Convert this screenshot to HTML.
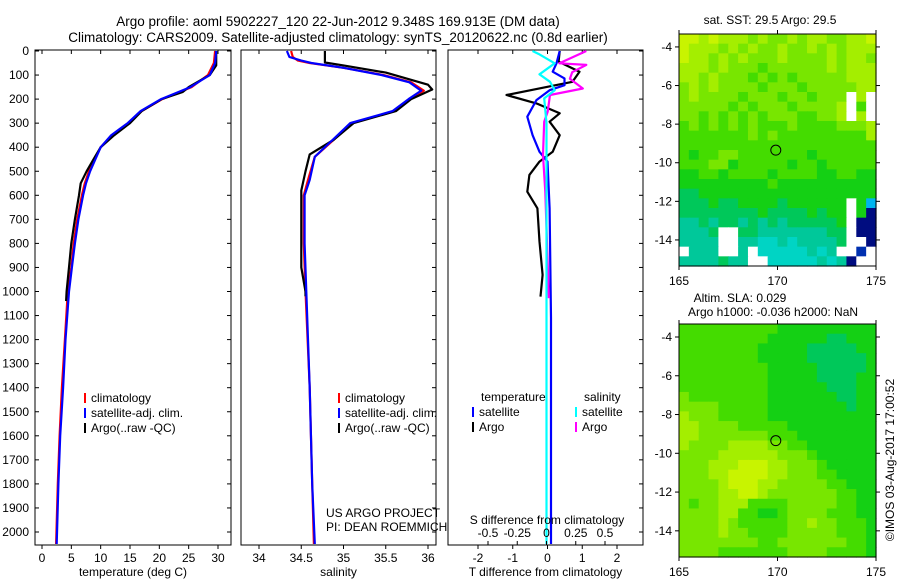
<!DOCTYPE html>
<html><head><meta charset="utf-8"><style>
body{margin:0;background:#fff;}
svg{display:block;font-family:"Liberation Sans",sans-serif;}
text{fill:#000;}
</style></head><body>
<svg id="fig" width="900" height="580" viewBox="0 0 900 580" xmlns="http://www.w3.org/2000/svg">
<rect width="900" height="580" fill="#fff"/>
<text x="338" y="26" font-size="13.5" text-anchor="middle">Argo profile: aoml 5902227_120 22-Jun-2012 9.348S 169.913E (DM data)</text>
<text x="338" y="42" font-size="13.5" text-anchor="middle">Climatology: CARS2009. Satellite-adjusted climatology: synTS_20120622.nc (0.8d earlier)</text>
<g id="plots"></g>
<g id="maps"></g>
<text x="770" y="24" font-size="12" text-anchor="middle">sat. SST: 29.5 Argo: 29.5</text>
<text x="740" y="302" font-size="12" text-anchor="middle">Altim. SLA: 0.029</text>
<text x="773" y="316" font-size="12" text-anchor="middle">Argo h1000: -0.036 h2000: NaN</text>
<text x="0" y="0" font-size="12" text-anchor="middle" transform="translate(894,460) rotate(-90)">©IMOS 03-Aug-2017 17:00:52</text>
<text x="326" y="517" font-size="12">US ARGO PROJECT</text>
<text x="326" y="531" font-size="12">PI: DEAN ROEMMICH</text>
</svg>
<script>
// ---- data ----
const tempDepth=[0,50,100,150,200,250,300,350,400,450,500,550,600,700,800,900,1000,1200,1400,1600,1800,2050];
const tempClim=[29.5,29.3,28.3,25.5,20.5,17,14.8,12,10,9,8,7.3,6.8,6,5.4,5,4.4,3.9,3.4,3,2.7,2.4];
const tempSat=[29.7,29.5,28.6,25.3,20.3,16.8,14.6,11.8,10,9.1,8.2,7.5,7,6.2,5.6,5.1,4.6,4,3.6,3.1,2.8,2.5];
const argoDepth=[0,60,100,150,170,200,250,300,350,400,450,500,550,600,700,800,900,1000,1040];
const tempArgo=[29.7,29.7,28.6,25,24,20.4,17,15,12.3,10,8.8,7.6,6.6,6.3,5.6,5,4.6,4.2,4.1];
const salDepth=[0,25,40,50,70,100,130,165,200,250,300,370,440,536,600,800,1000,1400,1800,2050];
const salClim=[34.38,34.4,34.46,34.6,35.0,35.47,35.8,35.95,35.79,35.6,35.1,34.88,34.66,34.58,34.53,34.53,34.55,34.6,34.63,34.65];
const salSat=[34.33,34.36,34.5,34.62,35.0,35.45,35.78,35.92,35.77,35.58,35.08,34.87,34.66,34.6,34.54,34.54,34.56,34.6,34.63,34.66];
const salArgoDepth=[0,48,60,90,140,160,200,250,300,370,430,500,580,700,900,1000,1020];
const salArgo=[34.78,34.78,35.0,35.5,36.0,36.05,35.8,35.62,35.12,34.88,34.6,34.55,34.5,34.5,34.5,34.55,34.55];
const tdSatDepth=[0,51,86,114,142,163,204,273,350,419,460,654,1110,2050];
const tdSat=[0.35,0.26,0.15,0.49,0.49,0.06,-0.32,-0.58,-0.43,-0.23,0,0.06,0.1,0.1];
const tdArgoDepth=[0,44,86,128,149,183,218,259,294,350,419,460,515,585,654,793,931,1021];
const tdArgo=[0.35,0.32,0.92,0.72,0,-1.18,-0.32,0.35,0.06,0.35,0.15,-0.23,-0.52,-0.58,-0.29,-0.23,-0.14,-0.2];
const sdSatDepth=[0,14,51,97,128,163,197,300,1000,2050];
const sdSat=[-0.12,-0.06,0.07,-0.06,0.03,0.07,-0.02,0,0,0];
const sdArgoDepth=[0,51,58,88,115,156,183,252,294,432,585,1028];
const sdArgo=[0.34,0.11,0.34,0.22,0.2,0.31,0.03,0.01,-0.02,-0.03,-0.01,0.02];
const depthTicks=[0,100,200,300,400,500,600,700,800,900,1000,1100,1200,1300,1400,1500,1600,1700,1800,1900,2000];
const tempTicks=[0,5,10,15,20,25,30];
const salTicks=[34,34.5,35,35.5,36];
const tdTicks=[-2,-1,0,1,2];
const sdTicks=[-0.5,-0.25,0,0.25,0.5];
const sdTickLabels=["-0.5","-0.25","0","0.25","0.5"];
const mapLonTicks=[165,170,175];
const mapLatTicks=[-4,-6,-8,-10,-12,-14];
const argoLon=169.913, argoLat=-9.348;
const sstGrid=[
"00101112122121122110",
"01112121221221212111",
"01121212221222212112",
"11121222322222212111",
"11212223232322222111",
"21212222322232222211",
"21222232223223222W1W",
"22222323222322221W3W",
"22323232322233221W1W",
"32323232333233332221",
"33333332323333333331",
"33333333333333333333",
"34332233333334333333",
"33322433333433433333",
"44334333343333443344",
"44444444434444444444",
"55444444444444444444",
"55545544445444444W4B",
"55555555455554544W4N",
"66565565656555554WNN",
"6665WW55666666655WNN",
"6666WW66776766665WWN",
"W666WW6W77777676WWDW",
"6666566WW77777676NWW"];
const slaGrid=[
"33333333334444444444",
"33333333344444455444",
"33333333444445555544",
"33333333444445555554",
"33333333344444555554",
"33333333344444555544",
"33333333344444455544",
"23333333344444445544",
"22223333344444444544",
"12223333344444444444",
"11222233333444444444",
"11222222233344444444",
"12222111122334444444",
"22221111112223444444",
"22211100011222344444",
"22211000011222334444",
"22221000112222233444",
"22221100122222223344",
"23221113333222223344",
"22221133443222233344",
"22221233333221223334",
"22221223333222223334",
"22222222332222222334",
"22223333333222233334"];
const palette={"0":"#c8f400","1":"#a4ee00","2":"#78e600","3":"#44dc00","4":"#14d014","5":"#00c85a","6":"#00c89a","7":"#00d4c4","W":"#ffffff","N":"#000c80","B":"#00b4f0","D":"#0030b0"};

// ---- helpers ----
const NS="http://www.w3.org/2000/svg";
function mk(parent,tag,attrs){const e=document.createElementNS(NS,tag);for(const k in attrs)e.setAttribute(k,attrs[k]);parent.appendChild(e);return e;}
const plots=document.getElementById('plots');
const Y0=51, YPX=0.2405, PT=50, PB=545;
const yD=d=>Y0+d*YPX;
const panels=[
 {x0:35,x1:231,v0:0,v1:30,p0:42,p1:218,ticks:tempTicks,labels:tempTicks.map(String),xlab:"temperature (deg C)",name:"temperature-panel"},
 {x0:241,x1:436,v0:34,v1:36,p0:259,p1:428,ticks:salTicks,labels:salTicks.map(String),xlab:"salinity",name:"salinity-panel"},
 {x0:448,x1:643,v0:-2,v1:2,p0:478,p1:617,ticks:tdTicks,labels:tdTicks.map(String),xlab:"T difference from climatology",name:"difference-panel"}
];
function xf(p){return v=>p.p0+(v-p.v0)*(p.p1-p.p0)/(p.v1-p.v0);}
panels.forEach((p,i)=>{
 const g=mk(plots,'g',{});
 
 
 const fr=mk(g,'rect',{x:p.x0,y:PT,width:p.x1-p.x0,height:PB-PT,fill:'none',stroke:'#000','stroke-width':1});
 
 
 const X=xf(p);
 p.ticks.forEach((t,j)=>{
  const x=X(t);
  mk(g,'line',{x1:x,x2:x,y1:PB,y2:PB+4,stroke:'#000'});
  mk(g,'line',{x1:x,x2:x,y1:PT,y2:PT+4,stroke:'#000'});
  const tx=mk(g,'text',{x:x,y:PB+17,'font-size':12,'text-anchor':'middle'});
  tx.textContent=p.labels[j];
  
  
 });
 const xl=mk(g,'text',{x:(p.x0+p.x1)/2,y:576,'font-size':12,'text-anchor':'middle'});
 xl.textContent=p.xlab;
 
 
 depthTicks.forEach(d=>{
  const y=yD(d);
  mk(g,'line',{x1:p.x1,x2:p.x1-4,y1:y,y2:y,stroke:'#000'});
  if(i===0){
   mk(g,'line',{x1:p.x0,x2:p.x0+4,y1:y,y2:y,stroke:'#000'});
   const t=mk(g,'text',{x:29,y:y+4,'font-size':12,'text-anchor':'end'});
   t.textContent=String(d);
   
   
  }
 });
});
function line(parent,X,vals,depths,color,name,w){
 const pts=vals.map((v,k)=>X(v).toFixed(1)+','+yD(depths[k]).toFixed(1)).join(' ');
 const l=mk(parent,'polyline',{points:pts,fill:'none',stroke:color,'stroke-width':w||2.2,'stroke-linejoin':'round'});
 
 
}
const clip=mk(plots,'defs',{});
panels.forEach((p,i)=>{const c=mk(clip,'clipPath',{id:'c'+i});mk(c,'rect',{x:p.x0,y:PT,width:p.x1-p.x0,height:PB-PT});});
const g0=mk(plots,'g',{'clip-path':'url(#c0)'});
const X0=xf(panels[0]);
line(g0,X0,tempClim,tempDepth,'#f00','temperature-climatology-line');
line(g0,X0,tempArgo,argoDepth,'#000','temperature-argo-line');
line(g0,X0,tempSat,tempDepth,'#00f','temperature-satellite-line');
const g1=mk(plots,'g',{'clip-path':'url(#c1)'});
const X1=xf(panels[1]);
line(g1,X1,salClim,salDepth,'#f00','salinity-climatology-line');
line(g1,X1,salArgo,salArgoDepth,'#000','salinity-argo-line');
line(g1,X1,salSat,salDepth,'#00f','salinity-satellite-line');
const g2=mk(plots,'g',{'clip-path':'url(#c2)'});
const X2=xf(panels[2]);
const XS={v0:-0.5,v1:0.5,p0:488,p1:605};const X3=xf(XS);
line(g2,X2,tdArgo,tdArgoDepth,'#000','t-diff-argo-line');
line(g2,X2,tdSat,tdSatDepth,'#00f','t-diff-satellite-line');
line(g2,X3,sdArgo,sdArgoDepth,'#f0f','s-diff-argo-line');
line(g2,X3,sdSat,sdSatDepth,'#0ff','s-diff-satellite-line');
// S diff axis
sdTicks.forEach((t,j)=>{
 const x=X3(t);
 mk(plots,'line',{x1:x,x2:x,y1:PB,y2:PB-4,stroke:'#000'});
 const tx=mk(plots,'text',{x:x,y:537,'font-size':12,'text-anchor':'middle'});
 tx.textContent=sdTickLabels[j];
 
 
});
const st=mk(plots,'text',{x:547,y:524,'font-size':12,'text-anchor':'middle'});
st.textContent='S difference from climatology';


// legends
function leg(x,y,color,label,name){
 const g=mk(plots,'g',{});
 
 
 if(color) mk(g,'line',{x1:x,x2:x,y1:y-9,y2:y+1,stroke:color,'stroke-width':2});
 const t=mk(g,'text',{x:x+6,y:y,'font-size':12});t.textContent=label;
}
leg(85,402,'#f00','climatology','legend-climatology');
leg(85,417,'#00f','satellite-adj. clim.','legend-satellite');
leg(85,432,'#000','Argo(..raw -QC)','legend-argo');
leg(339,402,'#f00','climatology','legend-climatology-sal');
leg(339,417,'#00f','satellite-adj. clim.','legend-satellite-sal');
leg(339,432,'#000','Argo(..raw -QC)','legend-argo-sal');
leg(475,401,null,'temperature','legend-temperature-header');
leg(578,401,null,'salinity','legend-salinity-header');
leg(473,416,'#00f','satellite','legend-t-satellite');
leg(473,431,'#000','Argo','legend-t-argo');
leg(576,416,'#0ff','satellite','legend-s-satellite');
leg(576,431,'#f0f','Argo','legend-s-argo');
// ---- maps ----
const maps=document.getElementById('maps');
function drawMap(grid,top,bot,latTop,latBot,lonLabelY,name){
 const g=mk(maps,'g',{});
 
 
 const L=679,R=876,rows=grid.length,cols=grid[0].length;
 const cw=(R-L)/cols,ch=(bot-top)/rows;
 grid.forEach((row,r)=>{for(let c=0;c<cols;c++){
  const cell=mk(g,'rect',{x:(L+c*cw).toFixed(2),y:(top+r*ch).toFixed(2),width:(cw+0.6).toFixed(2),height:(ch+0.6).toFixed(2),fill:palette[row[c]]});
  
  
 }});
 mk(g,'rect',{x:L,y:top,width:R-L,height:bot-top,fill:'none',stroke:'#000'});
 const lonX=v=>L+(v-165)/10*(R-L);
 const latY=v=>top+(latTop-v)/(latTop-latBot)*(bot-top);
 mapLonTicks.forEach(v=>{const x=lonX(v);
  mk(g,'line',{x1:x,x2:x,y1:bot,y2:bot+4,stroke:'#000'});mk(g,'line',{x1:x,x2:x,y1:top,y2:top-4,stroke:'#000'});
  const t=mk(g,'text',{x:x,y:lonLabelY,'font-size':12,'text-anchor':'middle'});t.textContent=String(v);
  
  
 });
 mapLatTicks.forEach(v=>{const y=latY(v);
  mk(g,'line',{x1:L,x2:L-4,y1:y,y2:y,stroke:'#000'});mk(g,'line',{x1:R,x2:R+4,y1:y,y2:y,stroke:'#000'});
  const t=mk(g,'text',{x:672,y:y+4,'font-size':12,'text-anchor':'end'});t.textContent=String(v);
  
  
 });
 const m=mk(g,'circle',{cx:lonX(argoLon),cy:latY(argoLat),r:5,fill:'none',stroke:'#000','stroke-width':1});
 
 
}
drawMap(sstGrid,34,266,-3.33,-15.35,285,'sst-map');
drawMap(slaGrid,324,557,-3.33,-15.35,576,'sla-map');
</script>
</body></html>
